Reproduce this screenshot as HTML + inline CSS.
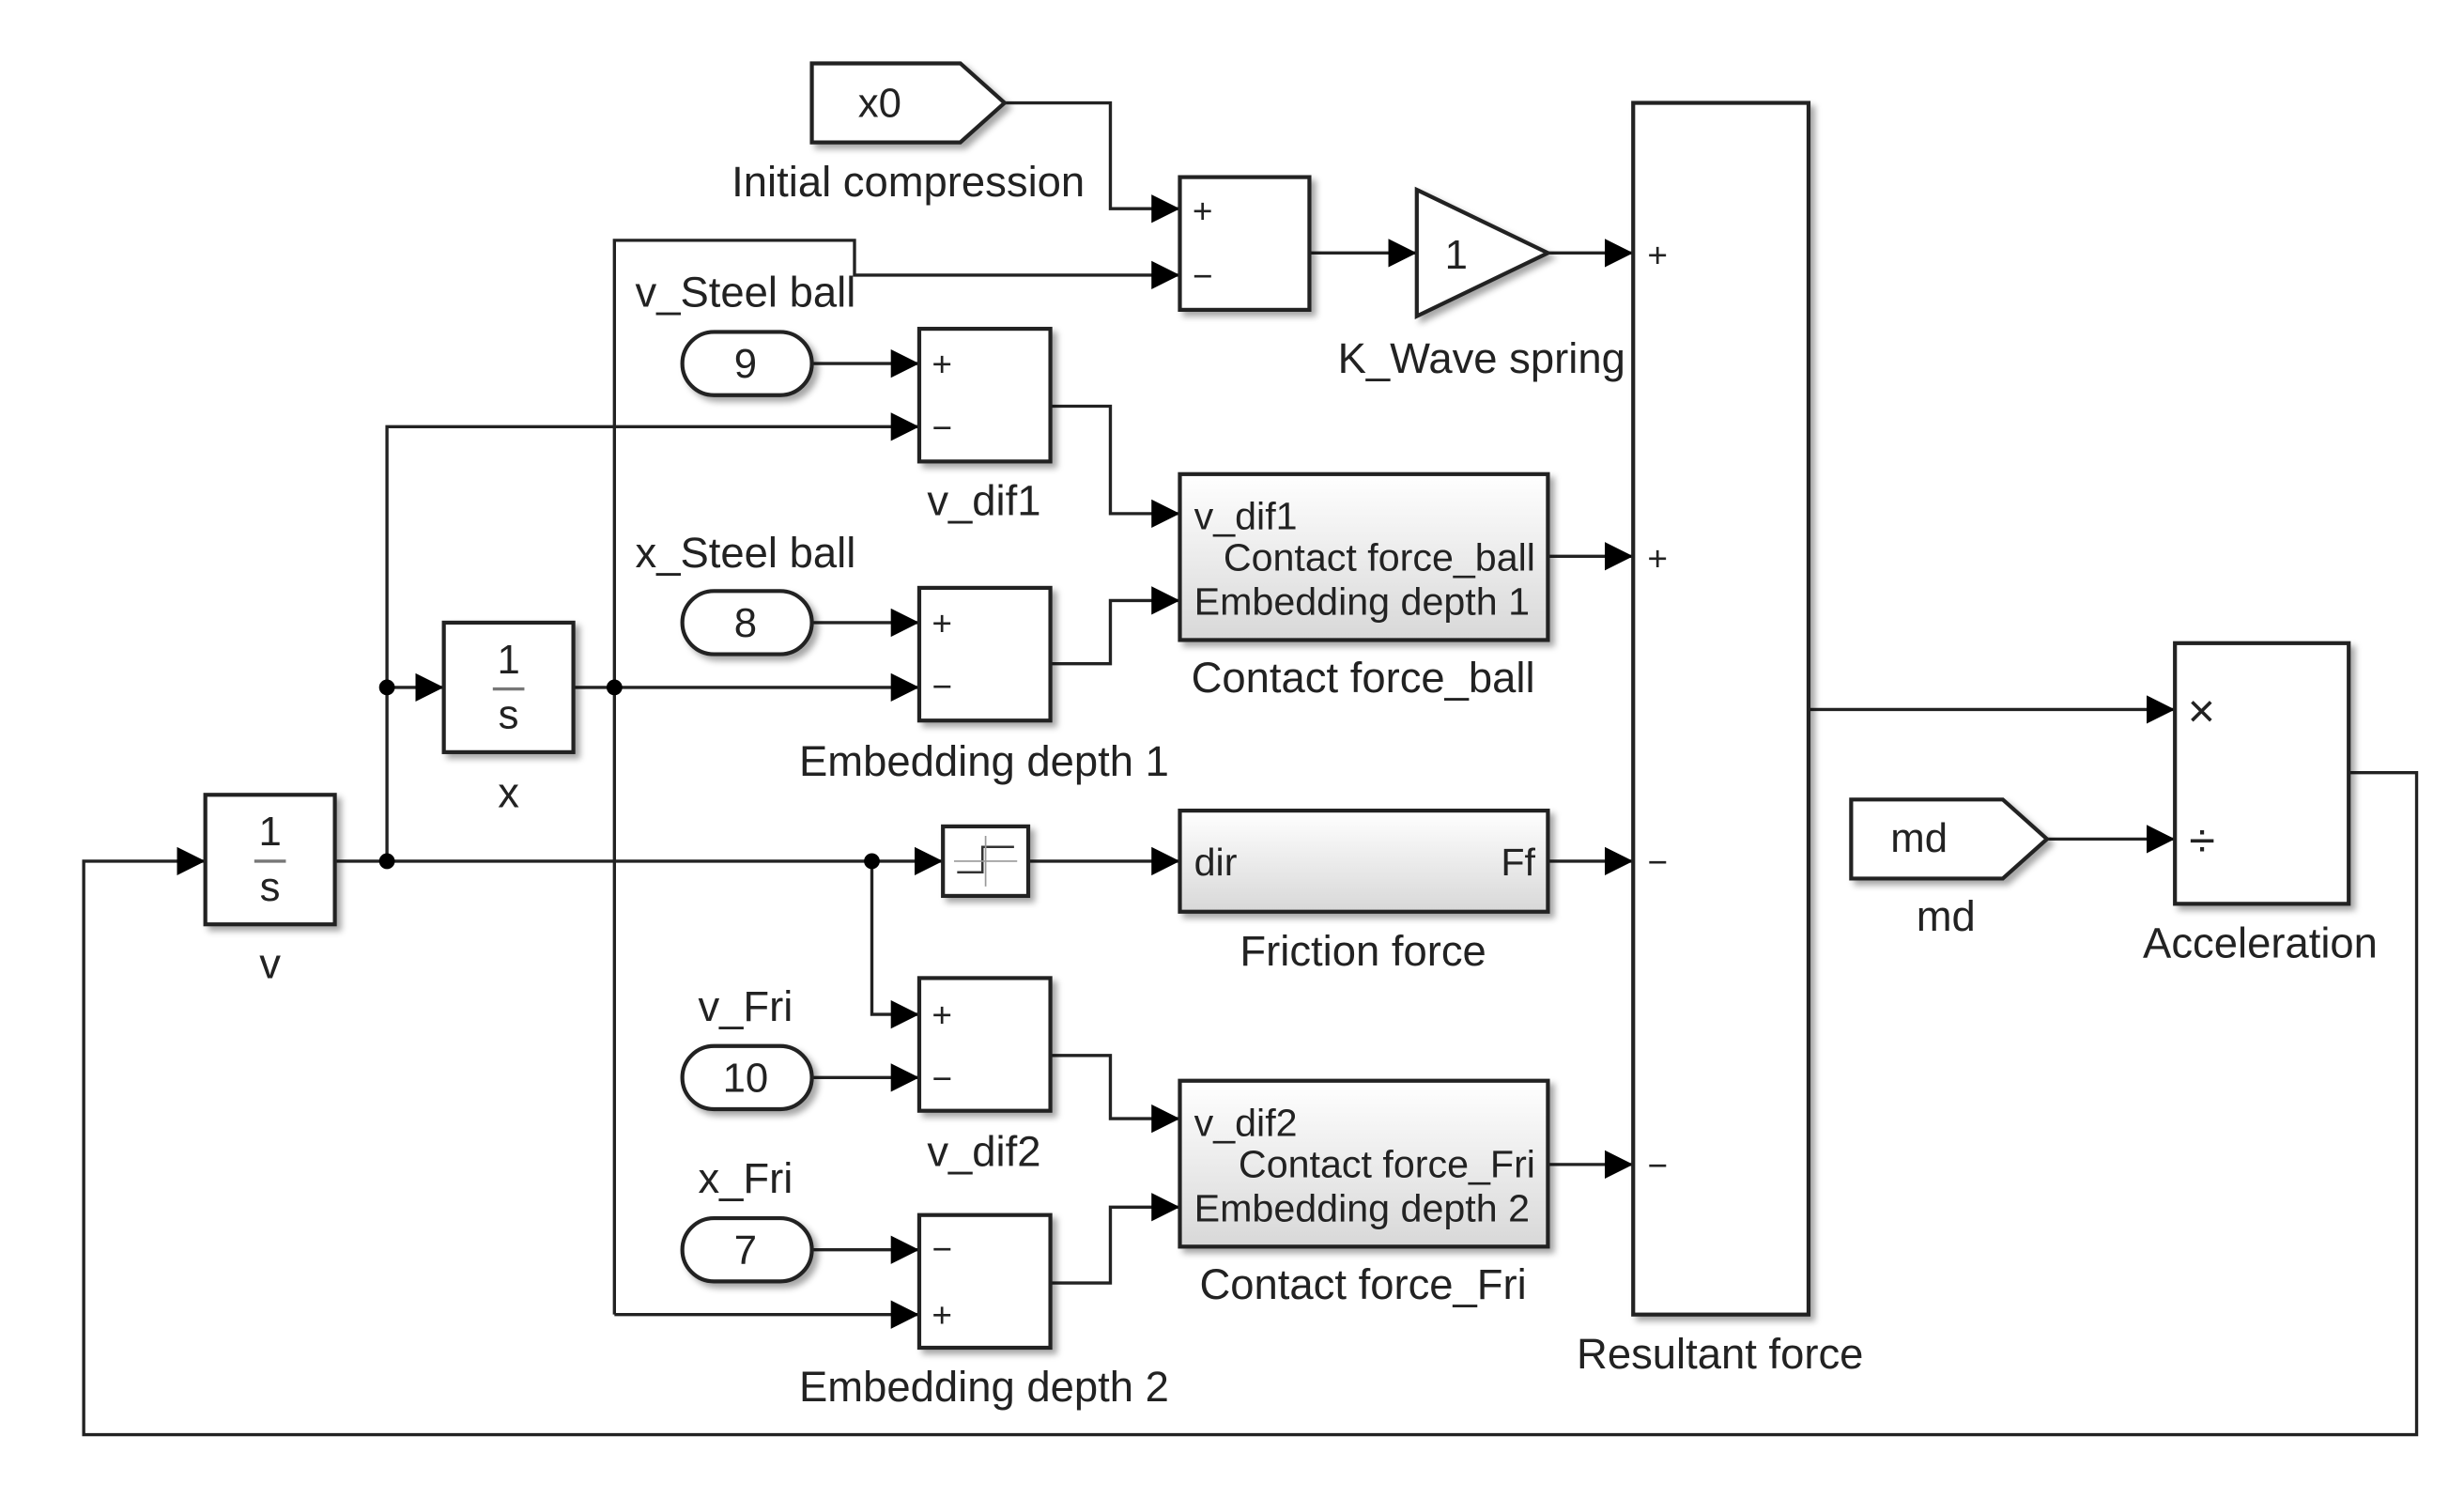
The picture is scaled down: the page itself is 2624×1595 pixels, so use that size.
<!DOCTYPE html>
<html><head><meta charset="utf-8"><style>
html,body{margin:0;padding:0;background:#fff;}
svg{display:block;}
text{font-family:"Liberation Sans",Arial,sans-serif;fill:#222;}
</style></head><body>
<svg width="2624" height="1595" viewBox="0 0 1560 948" xmlns="http://www.w3.org/2000/svg">
<defs>
<marker id="a" markerWidth="20" markerHeight="20" refX="18" refY="9" orient="auto" markerUnits="userSpaceOnUse">
<path d="M0,0 L18,9 L0,18 Z" fill="#000"/></marker>
<linearGradient id="g" x1="0" y1="0" x2="0" y2="1"><stop offset="0" stop-color="#fff"/><stop offset="1" stop-color="#d8d8d8"/></linearGradient>
<filter id="s" x="-10%" y="-10%" width="130%" height="130%"><feDropShadow dx="3" dy="3" stdDeviation="2" flood-color="#000" flood-opacity="0.35"/></filter>
</defs>
<g fill="none" stroke="#222" stroke-width="2">
<polyline points="636,65 703,65 703,132 747,132" marker-end="url(#a)"/>
<polyline points="389,832 389,152 541,152 541,174 747,174" marker-end="url(#a)"/>
<line x1="829" y1="160" x2="897" y2="160" marker-end="url(#a)"/>
<line x1="980" y1="160" x2="1034" y2="160" marker-end="url(#a)"/>
<line x1="514" y1="230" x2="582" y2="230" marker-end="url(#a)"/>
<polyline points="245,545 245,270 582,270" marker-end="url(#a)"/>
<polyline points="665,257 703,257 703,325 747,325" marker-end="url(#a)"/>
<line x1="980" y1="352" x2="1034" y2="352" marker-end="url(#a)"/>
<line x1="514" y1="394" x2="582" y2="394" marker-end="url(#a)"/>
<polyline points="665,420 703,420 703,380 747,380" marker-end="url(#a)"/>
<line x1="245" y1="435" x2="281" y2="435" marker-end="url(#a)"/>
<line x1="363" y1="435" x2="582" y2="435" marker-end="url(#a)"/>
<line x1="212" y1="545" x2="597" y2="545" marker-end="url(#a)"/>
<line x1="651" y1="545" x2="747" y2="545" marker-end="url(#a)"/>
<line x1="980" y1="545" x2="1034" y2="545" marker-end="url(#a)"/>
<polyline points="552,545 552,642 582,642" marker-end="url(#a)"/>
<line x1="514" y1="682" x2="582" y2="682" marker-end="url(#a)"/>
<polyline points="665,668 703,668 703,708 747,708" marker-end="url(#a)"/>
<line x1="980" y1="737" x2="1034" y2="737" marker-end="url(#a)"/>
<line x1="514" y1="791" x2="582" y2="791" marker-end="url(#a)"/>
<line x1="389" y1="832" x2="582" y2="832" marker-end="url(#a)"/>
<polyline points="665,812 703,812 703,764 747,764" marker-end="url(#a)"/>
<line x1="1145" y1="449" x2="1377" y2="449" marker-end="url(#a)"/>
<line x1="1296" y1="531" x2="1377" y2="531" marker-end="url(#a)"/>
<polyline points="1487,489 1530,489 1530,908 53,908 53,545 130,545" marker-end="url(#a)"/>
</g>
<g fill="#000">
<circle cx="245" cy="545" r="5"/><circle cx="245" cy="435" r="5"/><circle cx="389" cy="435" r="5"/><circle cx="552" cy="545" r="5"/>
</g>
<g fill="#fff" stroke="#222" stroke-width="2.5" filter="url(#s)">
<path d="M514,40 L608,40 L636,65 L608,90 L514,90 Z"/>
<path d="M1172,506 L1268,506 L1296,531 L1268,556 L1172,556 Z"/>
<rect x="747" y="112" width="82" height="84"/>
<path d="M897,120 L980,160 L897,200 Z"/>
<rect x="1034" y="65" width="111" height="767"/>
<rect x="432" y="210" width="82" height="40" rx="20"/>
<rect x="432" y="374" width="82" height="40" rx="20"/>
<rect x="432" y="662" width="82" height="40" rx="20"/>
<rect x="432" y="771" width="82" height="40" rx="20"/>
<rect x="582" y="208" width="83" height="84"/>
<rect x="582" y="372" width="83" height="84"/>
<rect x="582" y="619" width="83" height="84"/>
<rect x="582" y="769" width="83" height="84"/>
<rect x="281" y="394" width="82" height="82"/>
<rect x="130" y="503" width="82" height="82"/>
<rect x="597" y="523" width="54" height="44"/>
<rect x="747" y="300" width="233" height="105" fill="url(#g)"/>
<rect x="747" y="513" width="233" height="64" fill="url(#g)"/>
<rect x="747" y="684" width="233" height="105" fill="url(#g)"/>
<rect x="1377" y="407" width="110" height="165"/>
</g>
<polyline points="606,552 622,552 622,536 642,536" fill="none" stroke="#333" stroke-width="1.5"/>
<line x1="604" y1="545" x2="644" y2="545" stroke="#999" stroke-width="1"/>
<line x1="624" y1="529" x2="624" y2="561" stroke="#999" stroke-width="1"/>
<g font-size="26" text-anchor="middle">
<text x="171" y="535">1</text><line x1="161" y1="545" x2="181" y2="545" stroke="#777" stroke-width="2"/><text x="171" y="570">s</text>
<text x="322" y="426">1</text><line x1="312" y1="436" x2="332" y2="436" stroke="#777" stroke-width="2"/><text x="322" y="461">s</text>
</g>
<g font-size="26" text-anchor="middle">
<text x="557" y="74">x0</text>
<text x="1215" y="539">md</text>
<text x="922" y="170">1</text>
<text x="472" y="239">9</text>
<text x="472" y="403">8</text>
<text x="472" y="691">10</text>
<text x="472" y="800">7</text>
</g>
<g font-size="27" text-anchor="middle">
<text x="575" y="124">Initial compression</text>
<text x="938" y="236">K_Wave spring</text>
<text x="472" y="194">v_Steel ball</text>
<text x="623" y="326">v_dif1</text>
<text x="472" y="359">x_Steel ball</text>
<text x="863" y="438">Contact force_ball</text>
<text x="623" y="491">Embedding depth 1</text>
<text x="322" y="511">x</text>
<text x="171" y="619">v</text>
<text x="863" y="611">Friction force</text>
<text x="472" y="646">v_Fri</text>
<text x="623" y="738">v_dif2</text>
<text x="472" y="755">x_Fri</text>
<text x="863" y="822">Contact force_Fri</text>
<text x="623" y="887">Embedding depth 2</text>
<text x="1089" y="866">Resultant force</text>
<text x="1232" y="589">md</text>
<text x="1431" y="606">Acceleration</text>
</g>
<g font-size="24.5">
<text x="756" y="335">v_dif1</text>
<text x="972" y="361" text-anchor="end">Contact force_ball</text>
<text x="756" y="389">Embedding depth 1</text>
<text x="756" y="554">dir</text>
<text x="972" y="554" text-anchor="end">Ff</text>
<text x="756" y="719">v_dif2</text>
<text x="972" y="745" text-anchor="end">Contact force_Fri</text>
<text x="756" y="773">Embedding depth 2</text>
</g>
<g font-size="22">
<text x="755" y="141">+</text><text x="755" y="182">−</text>
<text x="590" y="238">+</text><text x="590" y="278">−</text>
<text x="590" y="402">+</text><text x="590" y="442">−</text>
<text x="590" y="650">+</text><text x="590" y="690">−</text>
<text x="590" y="798">−</text><text x="590" y="840">+</text>
<text x="1043" y="169">+</text><text x="1043" y="361">+</text>
<text x="1043" y="553">−</text><text x="1043" y="745">−</text>
</g>
<text x="1385" y="460" font-size="30">×</text>
<text x="1386" y="542" font-size="30">÷</text>
</svg>
</body></html>
